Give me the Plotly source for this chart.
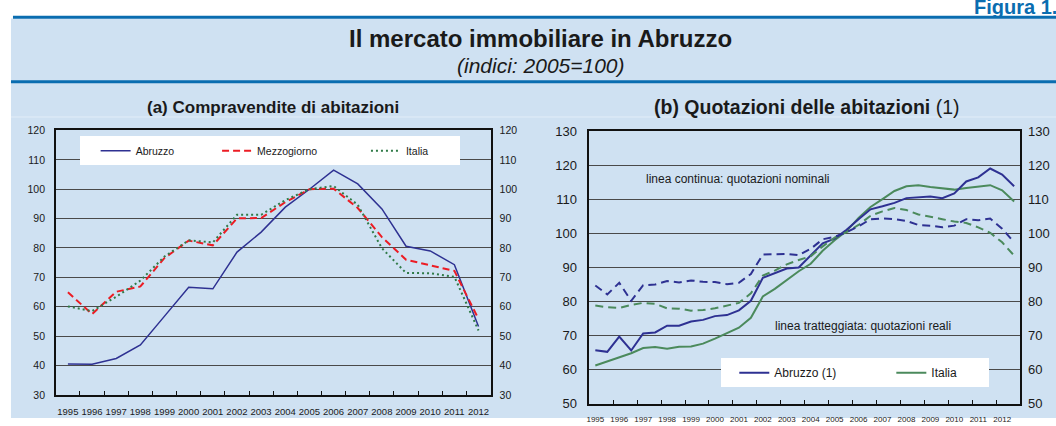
import plotly.graph_objects as go

W, H = 1056, 426

# ---------------- data ----------------
years = list(range(1995, 2013))
year_labels = [str(y) for y in years]

# (a) Compravendite di abitazioni (annual, 2005=100)
compr_abruzzo = [40.5, 40.4, 42.4, 47.0, 56.8, 66.6, 66.1, 78.6, 85.4, 93.9, 100.0, 106.5,
                 101.8, 93.3, 80.6, 79.0, 74.3, 53.3]
compr_mezzogiorno = [64.9, 57.5, 65.1, 66.9, 76.6, 82.5, 80.9, 90.1, 90.2, 95.6, 100.0, 100.2,
                     93.6, 83.7, 76.0, 74.1, 72.2, 55.8]
compr_italia = [60.1, 58.5, 63.4, 68.9, 77.1, 82.6, 81.9, 91.3, 91.3, 96.3, 100.0, 101.1,
                94.7, 79.9, 71.5, 71.4, 70.2, 51.9]

# (b) Quotazioni delle abitazioni (semi-annual, 2005=100)
semester_offsets = [0.25, 0.75]  # first and second half of each year
quot_abruzzo_nom = [65.7, 65.2, 69.7, 65.6, 70.6, 70.9, 72.9, 72.9, 74.1, 74.6, 75.7, 76.0,
                    77.4, 80.2, 87.0, 88.4, 89.7, 90.0, 93.4, 97.1, 98.5, 101.1, 104.2, 107.1,
                    108.0, 109.0, 110.4, 110.7, 110.9, 110.4, 111.8, 115.3, 116.5, 119.1, 117.3, 113.9]
quot_italia_nom = [61.2, 62.4, 63.6, 64.8, 66.3, 66.6, 66.1, 66.7, 66.8, 67.6, 69.1, 70.6,
                   72.3, 75.2, 81.5, 83.7, 86.4, 88.9, 91.1, 94.9, 98.0, 100.7, 104.6, 107.8,
                   110.1, 112.5, 113.9, 114.2, 113.7, 113.4, 112.9, 113.4, 113.9, 114.2, 112.7, 109.4]
quot_abruzzo_real = [84.7, 82.1, 85.5, 80.2, 84.8, 85.0, 86.0, 85.6, 86.2, 85.8, 85.7, 85.1,
                     85.5, 88.1, 93.8, 94.0, 94.0, 93.6, 95.5, 98.3, 99.0, 100.4, 102.1, 104.2,
                     104.4, 104.2, 103.7, 102.5, 102.3, 101.8, 102.3, 104.2, 103.9, 104.4, 101.4, 97.4]
quot_italia_real = [78.8, 78.3, 78.1, 79.0, 79.6, 79.3, 78.0, 77.9, 77.3, 77.5, 78.0, 78.9,
                    79.6, 82.4, 87.6, 89.1, 90.9, 92.2, 93.3, 96.2, 98.8, 100.4, 102.5, 105.2,
                    106.5, 107.5, 106.9, 105.6, 105.0, 104.2, 103.5, 103.1, 101.8, 100.2, 97.4, 93.5]

left_yticks = list(range(30, 130, 10))
right_yticks = list(range(50, 140, 10))

# ---------------- styles ----------------
FONT = "Liberation Sans, Arial, sans-serif"
NAVY = "#2e3192"
RED = "#ec1c24"
GREEN_DOT = "#2f7a47"
GREEN = "#4b8a5c"
LIGHT_BLUE = "#cfe1f2"
BAR_BLUE = "#0a6db0"
GRID = "#4a4a4a"
TXT = "#1a1a1a"
NB = "\u00a0"

def px(x):
    return x / W

def py(y):
    return 1 - y / H

sem_x = [y + o for y in years for o in semester_offsets]

fig = go.Figure()

# left panel traces
fig.add_trace(go.Scatter(x=years, y=compr_abruzzo, name="Abruzzo" + NB * 13,
                         mode="lines", line=dict(color=NAVY, width=1.5),
                         xaxis="x", yaxis="y", legend="legend"))
fig.add_trace(go.Scatter(x=years, y=compr_mezzogiorno, name="Mezzogiorno" + NB * 15,
                         mode="lines", line=dict(color=RED, width=2, dash="7px,4px"),
                         xaxis="x", yaxis="y", legend="legend"))
fig.add_trace(go.Scatter(x=years, y=compr_italia, name="Italia" + NB * 9,
                         mode="lines", line=dict(color=GREEN_DOT, width=2, dash="2px,3px"),
                         xaxis="x", yaxis="y3", legend="legend"))

# right panel traces
fig.add_trace(go.Scatter(x=sem_x, y=quot_italia_real, showlegend=False,
                         mode="lines", line=dict(color=GREEN, width=2, dash="8px,5px"),
                         xaxis="x2", yaxis="y4"))
fig.add_trace(go.Scatter(x=sem_x, y=quot_abruzzo_real, showlegend=False,
                         mode="lines", line=dict(color=NAVY, width=2, dash="8px,5px"),
                         xaxis="x2", yaxis="y4"))
fig.add_trace(go.Scatter(x=sem_x, y=quot_italia_nom, name="Italia" + NB * 8,
                         mode="lines", line=dict(color=GREEN, width=2),
                         xaxis="x2", yaxis="y2", legend="legend2", legendrank=2))
fig.add_trace(go.Scatter(x=sem_x, y=quot_abruzzo_nom, name="Abruzzo (1)" + NB * 15,
                         mode="lines", line=dict(color=NAVY, width=2),
                         xaxis="x2", yaxis="y2", legend="legend2", legendrank=1))

axis_common = dict(showline=True, linecolor="#111111", linewidth=1.5, mirror=True,
                   zeroline=False)

fig.update_layout(
    width=W, height=H, autosize=False,
    margin=dict(l=0, r=0, t=0, b=0),
    paper_bgcolor="white", plot_bgcolor="white",
    font=dict(family=FONT, color=TXT),
    # left panel
    xaxis=dict(domain=[px(53), px(489)], anchor="y", range=[years[0] - 0.5, years[-1] + 0.5],
               tickmode="array", tickvals=[y - 0.5 for y in years], ticktext=year_labels,
               ticks="inside", ticklen=4, tickcolor="#111111", ticklabelshift=12,
               ticklabelstandoff=7, showgrid=False, tickfont=dict(size=9.5), **axis_common),
    yaxis=dict(domain=[py(402), py(128)], anchor="x", range=[30, 120],
               tickmode="array", tickvals=left_yticks, ticks="", showgrid=True,
               gridcolor=GRID, gridwidth=1, tickfont=dict(size=10.5),
               ticklabelstandoff=7, **axis_common),
    yaxis3=dict(overlaying="y", side="right", anchor="x", range=[30, 120],
                tickmode="array", tickvals=left_yticks, ticks="", showgrid=False,
                showline=False, zeroline=False, tickfont=dict(size=10.5), ticklabelstandoff=8),
    # right panel
    xaxis2=dict(domain=[px(588), px(1020)], anchor="y2", range=[years[0], years[-1] + 1],
                tickmode="array", tickvals=years, ticktext=year_labels,
                ticks="inside", ticklen=4, tickcolor="#111111", ticklabelshift=6,
                ticklabelstandoff=7, showgrid=False, tickfont=dict(size=8), **axis_common),
    yaxis2=dict(domain=[py(411), py(129)], anchor="x2", range=[50, 130],
                tickmode="array", tickvals=right_yticks, ticks="", showgrid=True,
                gridcolor=GRID, gridwidth=1, tickfont=dict(size=13),
                ticklabelstandoff=8, **axis_common),
    yaxis4=dict(overlaying="y2", side="right", anchor="x2", range=[50, 130],
                tickmode="array", tickvals=right_yticks, ticks="", showgrid=False,
                showline=False, zeroline=False, tickfont=dict(size=13), ticklabelstandoff=7),
    legend=dict(orientation="h", x=px(77), xanchor="left", y=py(149), yanchor="middle",
                bgcolor="white", borderwidth=0, font=dict(size=10.5, color=TXT),
                title=dict(text=NB * 2, side="left", font=dict(size=10.5)),
                itemwidth=30, traceorder="normal"),
    legend2=dict(orientation="h", x=px(720), xanchor="left", y=py(379), yanchor="middle",
                 bgcolor="white", borderwidth=0, font=dict(size=12, color=TXT),
                 title=dict(text=NB * 1, side="left", font=dict(size=12)),
                 itemwidth=30, traceorder="normal"),
    shapes=[
        dict(type="rect", xref="paper", yref="paper", x0=px(8), x1=1, y0=0, y1=py(12),
             fillcolor=LIGHT_BLUE, line=dict(width=0), layer="below"),
        dict(type="line", xref="paper", yref="paper", x0=px(10), x1=1, y0=py(10.5), y1=py(10.5),
             line=dict(color=BAR_BLUE, width=3)),
        dict(type="line", xref="paper", yref="paper", x0=px(8), x1=1, y0=py(77.5), y1=py(77.5),
             line=dict(color=BAR_BLUE, width=3)),
        dict(type="line", xref="paper", yref="paper", x0=px(8), x1=1, y0=py(114), y1=py(114),
             line=dict(color="#e2edf8", width=1), layer="below"),
    ],
    annotations=[
        dict(text="<b>Figura 1.</b>", xref="paper", yref="paper", x=px(1059), y=py(13),
             xanchor="right", yanchor="bottom", showarrow=False,
             font=dict(size=20, color=BAR_BLUE)),
        dict(text="<b>Il mercato immobiliare in Abruzzo</b>", xref="paper", yref="paper",
             x=px(539), y=py(33), xanchor="center", yanchor="middle", showarrow=False,
             font=dict(size=24, color=TXT)),
        dict(text="<i>(indici: 2005=100)</i>", xref="paper", yref="paper",
             x=px(540), y=py(61), xanchor="center", yanchor="middle", showarrow=False,
             font=dict(size=21, color=TXT)),
        dict(text="<b>(a) Compravendite di abitazioni</b>", xref="paper", yref="paper",
             x=px(271), y=py(104), xanchor="center", yanchor="middle", showarrow=False,
             font=dict(size=17, color=TXT)),
        dict(text="<b>(b) Quotazioni delle abitazioni</b> (1)", xref="paper", yref="paper",
             x=px(806), y=py(104), xanchor="center", yanchor="middle", showarrow=False,
             font=dict(size=19.5, color=TXT)),
        dict(text="linea continua: quotazioni nominali", xref="paper", yref="paper",
             x=px(643), y=py(178), xanchor="left", yanchor="middle", showarrow=False,
             font=dict(size=12, color=TXT)),
        dict(text="linea tratteggiata: quotazioni reali", xref="paper", yref="paper",
             x=px(772), y=py(331), xanchor="left", yanchor="middle", showarrow=False,
             font=dict(size=12, color=TXT)),
    ],
)

fig.write_html(
    "out.html",
    config=dict(displayModeBar=False, responsive=False),
    post_script=(
        "var h=document.documentElement, b=document.body;"
        "h.style.margin='0'; h.style.padding='0'; h.style.overflow='hidden';"
        "b.style.margin='0'; b.style.padding='0'; b.style.overflow='hidden';"
    ),
)
